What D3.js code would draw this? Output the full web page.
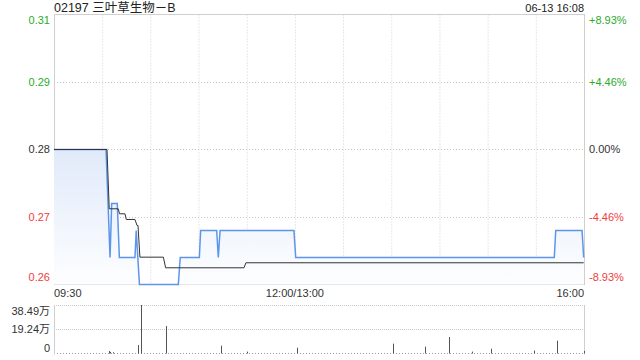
<!DOCTYPE html>
<html>
<head>
<meta charset="utf-8">
<script src="https://cdn.jsdelivr.net/npm/d3@7"></script>
<style>
  body { margin: 0; background: #fff; }
  svg { display: block; font-family: Arial, "Liberation Sans", "Noto Sans CJK SC", sans-serif; }
</style>
</head>
<body>
<svg id="chart" width="640" height="360"></svg>
<script>
// intraday data, minutes since 09:30 (lunch break removed, 330 = 16:00)
const basePrice = 0.28;
const pctRange = 0.0893;
const priceTickLabels = ["0.31", "0.29", "0.28", "0.27", "0.26"];
const pctTickLabels = ["+8.93%", "+4.46%", "0.00%", "-4.46%", "-8.93%"];
const timeLabels = ["09:30", "12:00/13:00", "16:00"];

const priceMinutes = [0, 32.4, 34.9, 35.9, 39.4, 40.7, 50.4, 51.2, 53.2, 77.4, 78.6, 90.5, 91.3, 101.3, 102.3, 103.4, 149.4, 150.5, 311.5, 312.4, 328.8, 329.8];
const prices = [0.28, 0.28, 0.26, 0.27, 0.27, 0.26, 0.26, 0.265, 0.255, 0.255, 0.26, 0.26, 0.265, 0.265, 0.26, 0.265, 0.265, 0.26, 0.26, 0.265, 0.265, 0.26];

const avgMinutes = [0, 33.0, 34.4, 40.0, 40.8, 44.2, 45.0, 50.4, 51.7, 52.3, 53.5, 68.1, 69.5, 118.3, 119.5, 329.8];
const avgPrices = [0.28, 0.28, 0.26902, 0.26902, 0.26809, 0.26809, 0.26704, 0.26704, 0.26593, 0.26593, 0.26006, 0.26006, 0.25809, 0.25809, 0.25902, 0.25902];

const volMinutes = [34, 35, 37, 52, 54, 70, 104, 120, 151, 211, 231, 246, 260, 272, 299, 313, 330];
const volumes = [2.0, 1.2, 1.0, 6.7, 38.49, 21.8, 6.2, 1.5, 4.6, 7.8, 5.4, 13.1, 1.5, 3.8, 2.3, 10.2, 2.0]; // 万
const volTickLabels = ["38.49万", "19.24万", "0"];
const volMax = 38.49;

const svg = d3.select("#chart");
const plotLeft = 54, plotRight = 584, plotTop = 14.5, plotBottom = 284.5;
const volTop = 305, volBottom = 353.5;
const green = "#2bab2b", red = "#f03c3c", dark = "#333";

const x = d3.scaleLinear().domain([0, 330]).range([plotLeft, plotRight]);
const y = d3.scaleLinear().domain([basePrice * (1 - pctRange), basePrice * (1 + pctRange)]).range([plotBottom, plotTop]);
const yv = d3.scaleLinear().domain([0, volMax]).range([volBottom, volTop]);

const tickLevels = [1, 0.5, 0, -0.5, -1].map(k => basePrice * (1 + k * pctRange));
const labelColor = [green, green, dark, red, red];
const labelShift = [6, 0, 0, 0, -7];

// gradient for the area under the price line
const grad = svg.append("defs").append("linearGradient")
    .attr("id", "areaGrad")
    .attr("gradientUnits", "userSpaceOnUse")
    .attr("x1", 0).attr("x2", 0)
    .attr("y1", y(basePrice)).attr("y2", plotBottom);
grad.append("stop").attr("offset", "0").attr("stop-color", "#e1eafa");
grad.append("stop").attr("offset", "1").attr("stop-color", "#fdfeff");

// title
svg.append("text").attr("x", plotLeft).attr("y", 12)
    .attr("font-size", 12.5).attr("fill", "#222")
    .text("02197 三叶草生物－B");
svg.append("text").attr("x", plotRight).attr("y", 12)
    .attr("font-size", 11).attr("fill", "#222").attr("text-anchor", "end")
    .text("06-13 16:08");

// grid
const minuteGrid = d3.range(30, 330, 30);
svg.append("g").selectAll("line").data(minuteGrid).join("line")
    .attr("x1", d => x(d) + 0.5).attr("x2", d => x(d) + 0.5)
    .attr("y1", plotTop).attr("y2", plotBottom)
    .attr("stroke", "#d0d0d0").attr("stroke-dasharray", "1,2");
svg.append("g").selectAll("line").data(tickLevels.slice(1, 4)).join("line")
    .attr("x1", plotLeft).attr("x2", plotRight)
    .attr("y1", d => Math.round(y(d)) + 0.5).attr("y2", d => Math.round(y(d)) + 0.5)
    .attr("stroke", "#c8c8c8").attr("stroke-dasharray", "1,2");

// frame (under the lines so the 0.255 stretch stays visible)
svg.append("rect").attr("x", plotLeft + 0.5).attr("y", plotTop)
    .attr("width", plotRight - plotLeft).attr("height", plotBottom - plotTop)
    .attr("fill", "none").attr("stroke", "#cfcfcf");

// watermark
svg.append("text").attr("x", 573).attr("y", 283)
    .attr("text-anchor", "end").attr("font-size", 13).attr("fill", "#d4d4d4")
    .text("sina.com");

// area + lines
const area = d3.area()
    .x((d, i) => x(priceMinutes[i]))
    .y0(plotBottom)
    .y1(d => y(d));
svg.append("path").datum(prices)
    .attr("d", area).attr("fill", "url(#areaGrad)");

const line = d3.line()
    .x((d, i) => x(priceMinutes[i]))
    .y(d => y(d));
svg.append("path").datum(prices)
    .attr("d", line).attr("fill", "none")
    .attr("stroke", "#5d95ec").attr("stroke-width", 1.5);

const avgLine = d3.line()
    .x((d, i) => x(avgMinutes[i]))
    .y(d => y(d));
svg.append("path").datum(avgPrices)
    .attr("d", avgLine).attr("fill", "none")
    .attr("stroke", "#333").attr("stroke-width", 1);

// price labels
svg.append("g").selectAll("text").data(tickLevels).join("text")
    .attr("x", 50).attr("y", (d, i) => y(d) + labelShift[i])
    .attr("dy", "0.35em").attr("text-anchor", "end")
    .attr("font-size", 11).attr("fill", (d, i) => labelColor[i])
    .text((d, i) => priceTickLabels[i]);
svg.append("g").selectAll("text").data(tickLevels).join("text")
    .attr("x", 589).attr("y", (d, i) => y(d) + labelShift[i])
    .attr("dy", "0.35em").attr("text-anchor", "start")
    .attr("font-size", 11).attr("fill", (d, i) => labelColor[i])
    .text((d, i) => pctTickLabels[i]);

// time labels
const timePos = [0, 150, 330];
const timeAnchor = ["start", "middle", "end"];
svg.append("g").selectAll("text").data(timePos).join("text")
    .attr("x", d => x(d)).attr("y", 293.5).attr("dy", "0.35em")
    .attr("text-anchor", (d, i) => timeAnchor[i])
    .attr("font-size", 11).attr("fill", dark)
    .text((d, i) => timeLabels[i]);

// volume panel
const volLevels = [volMax, volMax / 2];
svg.append("g").selectAll("line").data(volLevels).join("line")
    .attr("x1", plotLeft).attr("x2", plotRight)
    .attr("y1", d => Math.round(yv(d)) + 0.5).attr("y2", d => Math.round(yv(d)) + 0.5)
    .attr("stroke", "#c8c8c8").attr("stroke-dasharray", "1,1");
svg.append("line").attr("x1", plotLeft).attr("x2", plotRight)
    .attr("y1", volBottom).attr("y2", volBottom)
    .attr("stroke", "#999").attr("stroke-dasharray", "1,2");
svg.append("line").attr("x1", plotLeft + 0.5).attr("x2", plotLeft + 0.5)
    .attr("y1", volTop).attr("y2", volBottom + 1).attr("stroke", "#cfcfcf");
svg.append("line").attr("x1", plotRight + 0.5).attr("x2", plotRight + 0.5)
    .attr("y1", volTop).attr("y2", volBottom + 1).attr("stroke", "#cfcfcf");

svg.append("g").selectAll("line").data(volumes).join("line")
    .attr("x1", (d, i) => Math.round(x(volMinutes[i])) + 0.5)
    .attr("x2", (d, i) => Math.round(x(volMinutes[i])) + 0.5)
    .attr("y1", volBottom).attr("y2", d => yv(d))
    .attr("stroke", "#555").attr("stroke-width", 1);

const volLabelPos = [volMax, volMax / 2, 0];
const volShift = [6, 0, -5];
svg.append("g").selectAll("text").data(volLabelPos).join("text")
    .attr("x", 50).attr("y", (d, i) => yv(d) + volShift[i]).attr("dy", "0.35em")
    .attr("text-anchor", "end").attr("font-size", 11).attr("fill", dark)
    .text((d, i) => volTickLabels[i]);
</script>
</body>
</html>
